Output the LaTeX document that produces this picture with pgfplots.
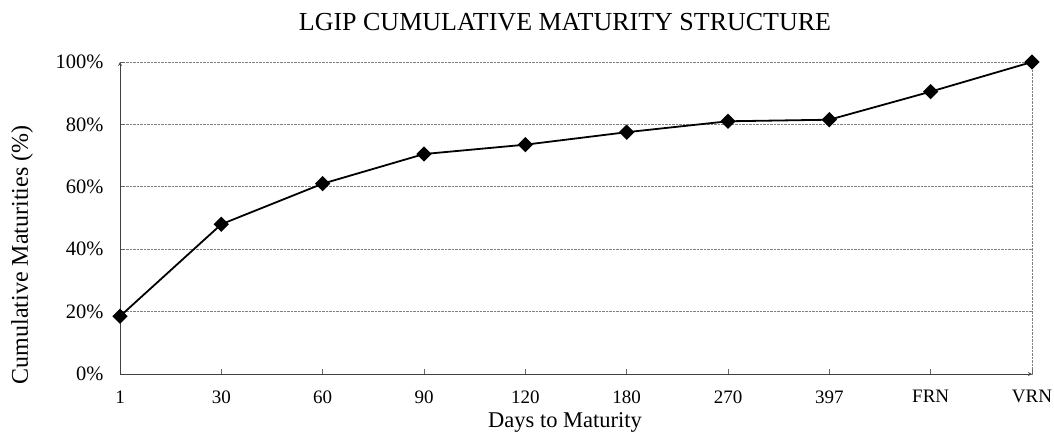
\documentclass[border=0pt]{standalone}
\usepackage{pgfplots}
\pgfplotsset{compat=1.18}
\usepackage{fontspec}
\setmainfont{Liberation Serif}
\begin{document}
\begin{tikzpicture}[x=1pt,y=1pt]
\begin{axis}[
  at={(120pt,68pt)}, anchor=south west,
  scale only axis,
  width=912pt, height=312pt,
  xmin=0, xmax=9, ymin=0, ymax=100,
  axis lines=left,
  axis line style={black!75, line width=0.8pt},
  every inner x axis line/.append style={-},
  every inner y axis line/.append style={-},
  xtick={0,...,9},
  xticklabels={1,30,60,90,120,180,270,397,FRN,VRN},
  ytick={0,20,40,60,80,100},
  yticklabels={0\%,20\%,40\%,60\%,80\%,100\%},
  tick align=inside,
  major tick length=5pt,
  tick style={black!60, line width=0.6pt},
  ymajorgrids,
  grid style={black!50, densely dotted, line width=0.8pt},
  extra x ticks={9},
  extra x tick labels={},
  extra x tick style={grid=major},
  /pgf/number format/assume math mode=true,
  xticklabel style={font=\fontsize{19}{21}\selectfont, yshift=-13pt},
  yticklabel style={font=\fontsize{20.5}{23}\selectfont, xshift=-13pt},
]
\addplot[black, line width=1.8pt, mark=square*, mark size=4.5pt,
  mark options={solid, fill=black, rotate=45}]
  coordinates {(0,18.5) (1,48) (2,61) (3,70.5) (4,73.5) (5,77.5) (6,81) (7,81.5) (8,90.5) (9,100)};
\end{axis}
\node[font=\fontsize{26}{29}\selectfont] at (565pt,420pt) {LGIP CUMULATIVE MATURITY STRUCTURE};
\node[font=\fontsize{22.5}{25}\selectfont] at (565pt,20pt) {Days to Maturity};
\node[font=\fontsize{24}{27}\selectfont, rotate=90] at (22pt,187pt) {Cumulative Maturities (\%)};
\pgfresetboundingbox
\useasboundingbox (0,0) rectangle (1054pt,442pt);
\end{tikzpicture}
\end{document}
